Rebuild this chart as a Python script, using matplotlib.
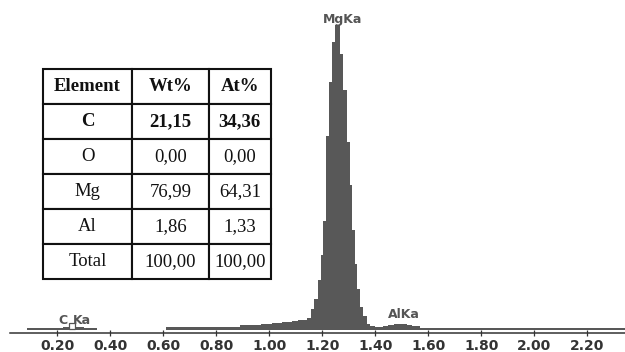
import matplotlib
matplotlib.use("Agg")
import matplotlib.pyplot as plt

# EDS spectrum (energy in keV, counts in arbitrary units)
energy_edges = [0.085, 0.22, 0.30, 0.35, 0.612, 0.64, 0.74, 0.89, 0.97, 1.009,
                1.047, 1.085, 1.11, 1.142, 1.157, 1.169, 1.184, 1.196, 1.203, 1.215,
                1.226, 1.237, 1.248, 1.269, 1.279, 1.294, 1.304, 1.311, 1.324, 1.332,
                1.343, 1.355, 1.368, 1.381, 1.40, 1.43, 1.45, 1.47, 1.50, 1.52,
                1.54, 1.57, 2.343]
counts = [15, 25, 15, 0, 30, 25, 28, 42, 55, 65,
          75, 82, 95, 118, 210, 310, 495, 745, 1085, 1935,
          2475, 2880, 3045, 2760, 2395, 1880, 1445, 995, 660, 410,
          230, 135, 60, 35, 28, 35, 45, 55, 52, 42,
          32, 18]

tick_values = [0.20, 0.40, 0.60, 0.80, 1.00, 1.20, 1.40, 1.60, 1.80, 2.00, 2.20]

# peak labels: (text, energy, height)
peak_labels = [("MgKa", 1.275, 3105), ("AlKa", 1.509, 150)]

# composition table
table_header = ["Element", "Wt%", "At%"]
table_rows = [["C", "21,15", "34,36"],
              ["O", "0,00", "0,00"],
              ["Mg", "76,99", "64,31"],
              ["Al", "1,86", "1,33"],
              ["Total", "100,00", "100,00"]]

fig = plt.figure(figsize=(6.25, 3.52), dpi=100)
ax = fig.add_axes([10 / 625, 19 / 352, 615 / 625, 333 / 352])

ax.stairs(counts, energy_edges, fill=True, color="#585858", baseline=0)

ax.set_xlim(0.0215, 2.343)
ax.set_ylim(-35, 3295)

for side in ["top", "left", "right"]:
    ax.spines[side].set_visible(False)
ax.spines["bottom"].set_color("#333333")
ax.spines["bottom"].set_linewidth(1.1)

ax.set_yticks([])
ax.set_xticks(tick_values)
ax.set_xticklabels(["%.2f" % t for t in tick_values])
ax.tick_params(axis="x", direction="inout", length=4, width=0.9, color="#333333",
               pad=2.0, labelsize=10, labelcolor="#333333")
for lab in ax.get_xticklabels():
    lab.set_fontweight("bold")

for txt, x, y in peak_labels:
    ax.text(x, y, txt, ha="center", va="center", fontsize=9, fontweight="bold",
            color="#555555")

# C Ka label with its little square marker
ax.text(0.223, 85, "C", ha="center", va="center", fontsize=9, fontweight="bold", color="#555555")
ax.text(0.293, 85, "Ka", ha="center", va="center", fontsize=9, fontweight="bold", color="#555555")
ax.plot([0.254], [40], marker="s", markersize=4, markerfacecolor="white",
        markeredgecolor="#555555", markeredgewidth=0.9, linestyle="none")

# table in its own axes
tax = fig.add_axes([43.3 / 625, 1 - 279.3 / 352, 227.4 / 625, 210 / 352])
tax.axis("off")
col_w = [88.4 / 227.4, 77.3 / 227.4, 61.7 / 227.4]
tbl = tax.table(cellText=table_rows, colLabels=table_header, colWidths=col_w,
                cellLoc="center", bbox=[0, 0, 1, 1])
tbl.auto_set_font_size(False)
for (r, c), cell in tbl.get_celld().items():
    cell.set_linewidth(1.5)
    cell.set_edgecolor("#111111")
    cell.set_facecolor("white")
    t = cell.get_text()
    t.set_fontfamily("Liberation Serif")
    t.set_fontsize(13.5)
    t.set_color("#111111")
    if r <= 1:
        t.set_fontweight("bold")

fig.savefig("out.png", dpi=100)
